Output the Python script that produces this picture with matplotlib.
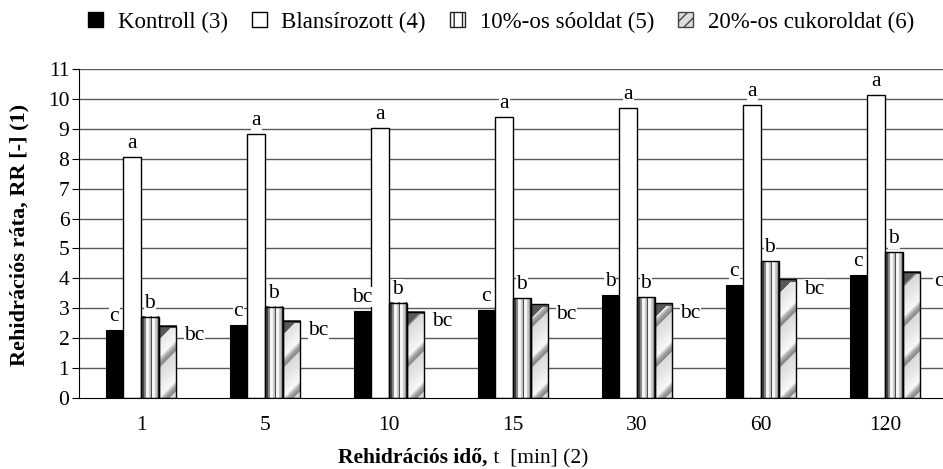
import numpy as np
import matplotlib
matplotlib.use("Agg")
import matplotlib.pyplot as plt
from matplotlib.patches import Patch

plt.rcParams['font.family'] = ['Liberation Serif', 'DejaVu Serif']

times = ['1', '5', '10', '15', '30', '60', '120']
series_names = ['Kontroll (3)', 'Blansírozott (4)', '10%-os sóoldat (5)', '20%-os cukoroldat (6)']
kontroll = [2.27, 2.44, 2.92, 2.94, 3.44, 3.78, 4.11]
blans = [8.07, 8.83, 9.02, 9.41, 9.71, 9.80, 10.13]
sooldat = [2.72, 3.05, 3.19, 3.33, 3.37, 4.58, 4.88]
cukor = [2.41, 2.59, 2.89, 3.13, 3.17, 3.97, 4.22]
lab_kontroll = ['c', 'c', 'bc', 'c', 'b', 'c', 'c']
lab_blans = ['a'] * 7
lab_so = ['b'] * 7
lab_cukor = ['bc', 'bc', 'bc', 'bc', 'bc', 'bc', 'c']

W, H = 943, 469
FS = 15.5
fig = plt.figure(figsize=(W / 100, H / 100), dpi=100)
ax = fig.add_axes([79 / W, (469 - 398) / H, 868 / W, 329 / H])
ax.set_xlim(-0.5, 6.5)
ax.set_ylim(0, 11)

px_x = 868 / 7.0
px_y = 329 / 11.0

bw = 0.143
x = np.arange(len(times))
offs = [-1.5 * bw, -0.5 * bw, 0.5 * bw, 1.5 * bw]

for v in range(1, 12):
    ax.axhline(v, color='#5a5a5a', lw=1.0, zorder=0)

ax.bar(x + offs[0], kontroll, bw, color='black', edgecolor='black', lw=0.8, zorder=2)
ax.bar(x + offs[1], blans, bw, color='white', edgecolor='black', lw=1.0, zorder=2)

stripe = np.array([0.1, 0.25, 0.25, 0.5, 0.55, 0.95, 0.97, 0.95, 0.8, 0.75, 0.3,
                   0.95, 0.97, 0.95, 0.8, 0.75, 0.6, 0.15])
for xi, h in zip(x, sooldat):
    x0 = xi + offs[2] - bw / 2
    img = np.tile(stripe, (2, 1))
    ax.imshow(img, extent=[x0, x0 + bw, 0, h], aspect='auto', cmap='gray',
              vmin=0, vmax=1, interpolation='nearest', zorder=2)
ax.bar(x + offs[2], sooldat, bw, fill=False, edgecolor='black', lw=1.0, zorder=3)

for xi, h in zip(x, cukor):
    x0 = xi + offs[3] - bw / 2
    wpx = int(round(bw * px_x))
    hpx = int(round(h * px_y))
    xx, yy = np.meshgrid(np.arange(wpx) + 0.5, np.arange(hpx) + 0.5)
    yb = hpx - yy
    d = ((yb - xx) % 40) / 40.0
    val = np.where(d < 0.75, 0.97 - 0.12 * (d / 0.75), 0.55 + 0.42 * ((d - 0.75) / 0.25) ** 2)
    tri = (yy + xx) < wpx * 0.62 + 3
    val = np.where(tri, 0.35, val)
    val = np.where(yy < 3, 0.35, val)
    ax.imshow(val, extent=[x0, x0 + bw, 0, h], aspect='auto', cmap='gray',
              vmin=0, vmax=1, interpolation='bilinear', zorder=2)
ax.bar(x + offs[3], cukor, bw, fill=False, edgecolor='black', lw=1.0, zorder=3)

ax.set_xlim(-0.5, 6.5)
ax.set_ylim(0, 11)

bbox = dict(facecolor='white', edgecolor='none', pad=0.5)
for i in range(len(times)):
    ax.text(x[i] + offs[0], kontroll[i] + 0.45, lab_kontroll[i], ha='center', va='center',
            fontsize=FS, bbox=bbox, zorder=4)
    ax.text(x[i] + offs[1], blans[i] + 0.45, lab_blans[i], ha='center', va='center',
            fontsize=FS, bbox=bbox, zorder=4)
    ax.text(x[i] + offs[2], sooldat[i] + 0.45, lab_so[i], ha='center', va='center',
            fontsize=FS, bbox=bbox, zorder=4)
    ax.text(x[i] + offs[3] + bw / 2 + 0.145, cukor[i] - 0.33, lab_cukor[i], ha='center',
            va='center', fontsize=FS, bbox=bbox, zorder=4)

ax.set_xticks(x)
ax.set_xticklabels(times, fontsize=FS)
ax.tick_params(axis='x', length=0, pad=13)
ax.set_yticks(range(0, 12))
ax.tick_params(axis='y', labelsize=FS, length=5, direction='out', pad=2)
for s in ['top', 'right']:
    ax.spines[s].set_visible(False)
ax.spines['left'].set_zorder(5)
ax.spines['bottom'].set_zorder(5)

fig.text(19 / W, (469 - 235) / H, 'Rehidrációs ráta, RR [-] (1)', rotation=90,
         ha='center', va='center', fontsize=FS + 0.5, fontweight='bold')

ylab = (469 - 463) / H
t1 = fig.text(0, ylab, 'Rehidrációs idő,', ha='left', va='baseline',
              fontsize=FS, fontweight='bold')
t2 = fig.text(0, ylab, ' t  [min] (2)', ha='left', va='baseline', fontsize=FS)
fig.canvas.draw()
w1 = t1.get_window_extent().width
w2 = t2.get_window_extent().width
start = 463 - (w1 + w2) / 2
t1.set_x(start / W)
t2.set_x((start + w1) / W)

handles = [Patch(facecolor='black', edgecolor='black'),
           Patch(facecolor='white', edgecolor='black'),
           Patch(facecolor='white', edgecolor='#222222', hatch='||'),
           Patch(facecolor='#dddddd', edgecolor='#444444', hatch='///')]
fig.legend(handles, series_names, loc='center', bbox_to_anchor=(501 / W, (469 - 22) / H),
           ncol=4, frameon=False, fontsize=16.5, handlelength=0.65, handleheight=0.65,
           handletextpad=0.65, columnspacing=1.05)

fig.savefig('out.png', dpi=100)
